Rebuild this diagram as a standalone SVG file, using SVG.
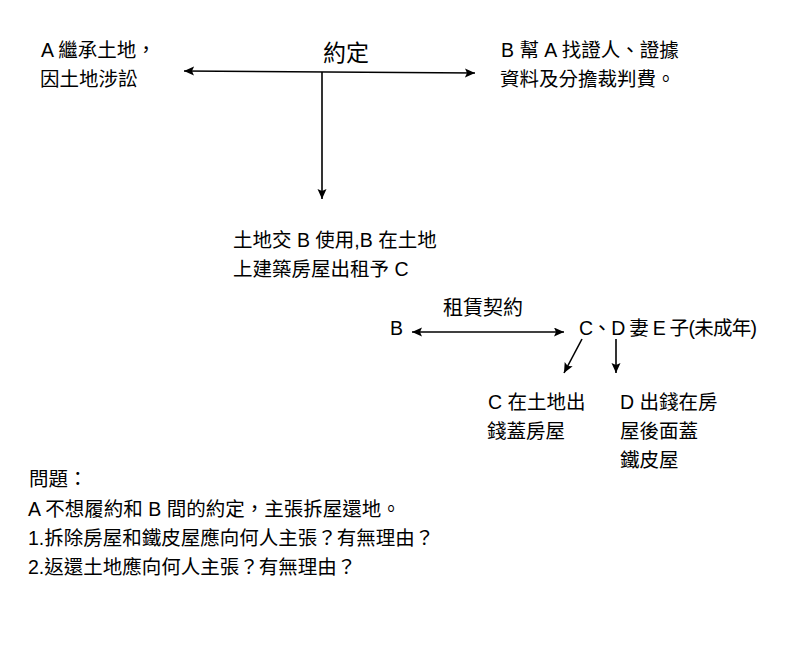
<svg xmlns="http://www.w3.org/2000/svg" width="793" height="656" viewBox="0 0 793 656">
  <style>
    text { font-family: "Liberation Sans", "Noto Sans CJK TC", sans-serif; font-size: 19.5px; fill: #000; }
    .lbl { font-size: 23px; }
    .lbl2 { font-size: 20px; }
    .conn { stroke: #000; stroke-width: 1.6; fill: none; }
  </style>
  <defs>
    <marker id="ah" markerUnits="userSpaceOnUse" markerWidth="12" markerHeight="10" refX="10" refY="4.5" orient="auto-start-reverse" viewBox="0 0 12 10">
      <path d="M0,0 L10,4.5 L0,9 L2,4.5 Z" fill="#000"/>
    </marker>
  </defs>
  <rect width="793" height="656" fill="#fff"/>

  <g id="connectors">
    <line class="conn" x1="184" y1="71" x2="475" y2="73" marker-start="url(#ah)" marker-end="url(#ah)"/>
    <line class="conn" x1="322" y1="72" x2="322" y2="199" marker-end="url(#ah)"/>
    <line class="conn" x1="412" y1="332" x2="564" y2="332" stroke-width="2" marker-start="url(#ah)" marker-end="url(#ah)"/>
    <line class="conn" x1="582" y1="339" x2="564" y2="373" stroke-width="2" marker-end="url(#ah)"/>
    <line class="conn" x1="616" y1="339" x2="616" y2="373" stroke-width="2" marker-end="url(#ah)"/>
    <text id="label-agreement" class="lbl" x="323" y="61">約定</text>
    <text id="label-lease" class="lbl2" x="443" y="315">租賃契約</text>
  </g>

  <g id="node-A">
    <text x="41" y="57">A 繼承土地，</text>
    <text x="40" y="86">因土地涉訟</text>
  </g>
  <g id="node-B-help">
    <text x="501" y="57">B 幫 A 找證人、證據</text>
    <text x="500" y="86">資料及分擔裁判費。</text>
  </g>
  <g id="node-land">
    <text x="233" y="247">土地交 B 使用,B 在土地</text>
    <text x="233" y="276">上建築房屋出租予 C</text>
  </g>
  <g id="node-B">
    <text x="390" y="335">B</text>
  </g>
  <g id="node-CDE">
    <text x="579" y="335" textLength="178" lengthAdjust="spacing">C、D 妻 E 子(未成年)</text>
  </g>
  <g id="node-C-house">
    <text x="488" y="409">C 在土地出</text>
    <text x="487" y="438">錢蓋房屋</text>
  </g>
  <g id="node-D-shed">
    <text x="620" y="409">D 出錢在房</text>
    <text x="620" y="438">屋後面蓋</text>
    <text x="620" y="467">鐵皮屋</text>
  </g>
  <g id="questions">
    <text x="29" y="486">問題：</text>
    <text x="28" y="516">A 不想履約和 B 間的約定，主張拆屋還地。</text>
    <text x="28" y="545">1.拆除房屋和鐵皮屋應向何人主張？有無理由？</text>
    <text x="28" y="574">2.返還土地應向何人主張？有無理由？</text>
  </g>
</svg>
